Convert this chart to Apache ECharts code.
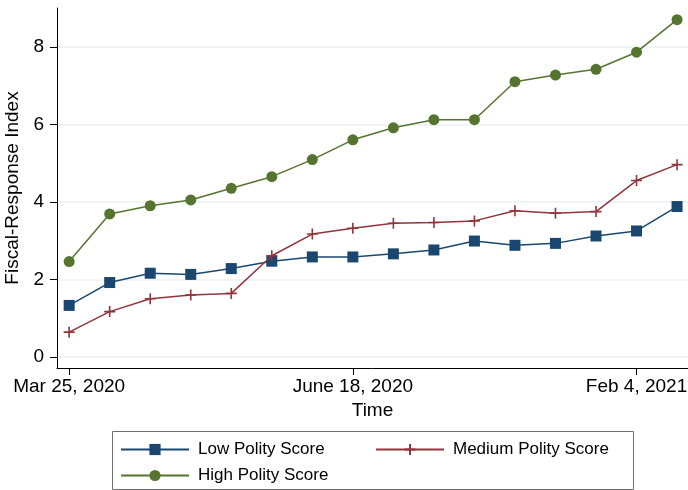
<!DOCTYPE html><html><head><meta charset="utf-8">
<script src="https://cdn.jsdelivr.net/npm/echarts@6/dist/echarts.min.js"></script>
<style>html,body{margin:0;padding:0;background:#fff}#c{width:688px;height:490px}</style>
</head><body><div id="c"></div><script>
const seriesNames = ['Low Polity Score', 'Medium Polity Score', 'High Polity Score'];
const lowValues = [1.33, 1.92, 2.16, 2.13, 2.28, 2.47, 2.58, 2.58, 2.66, 2.76, 2.99, 2.88, 2.93, 3.12, 3.25, 3.88];
const mediumValues = [0.64, 1.17, 1.50, 1.60, 1.64, 2.61, 3.17, 3.32, 3.45, 3.47, 3.51, 3.77, 3.71, 3.75, 4.55, 4.96];
const highValues = [2.46, 3.69, 3.90, 4.05, 4.35, 4.65, 5.09, 5.60, 5.91, 6.12, 6.12, 7.10, 7.27, 7.42, 7.86, 8.70];
const xTickIndex = [0, 7, 14];
const xTickLabels = ['Mar 25, 2020', 'June 18, 2020', 'Feb 4, 2021'];
const yTicks = [0, 2, 4, 6, 8];
const colors = ['#1a476f', '#90353b', '#55752f'];
const symbols = ['rect', 'path://M0,5L10,5M5,0L5,10', 'circle'];
const allValues = [lowValues, mediumValues, highValues];

const FONT = 'Liberation Sans, Arial, Helvetica, sans-serif';
const chart = echarts.init(document.getElementById('c'), null, {renderer: 'canvas'});

const series = seriesNames.map((name, k) => ({
  name: name,
  type: 'line',
  data: allValues[k].map((v, i) => [i, v]),
  symbol: symbols[k],
  symbolSize: 11,
  showAllSymbol: true,
  lineStyle: {color: colors[k], width: 1.5},
  itemStyle: k === 1 ? {color: colors[k], borderColor: colors[k], borderWidth: 1.6} : {color: colors[k], borderWidth: 0},
  emphasis: {disabled: true},
  z: 2 + k
}));

const legendCommon = {
  orient: 'horizontal',
  itemWidth: 68,
  itemHeight: 14,
  textStyle: {fontFamily: FONT, fontSize: 17, color: '#000', padding: [0, 0, 0, 4]},
  selectedMode: false
};

chart.setOption({
  animation: false,
  backgroundColor: '#fff',
  grid: {left: 57, right: 0, top: 8, bottom: 122, containLabel: false, outerBoundsMode: 'none'},
  xAxis: {
    type: 'value',
    min: -0.3,
    max: 15.27,
    name: 'Time',
    nameLocation: 'middle',
    nameGap: 32,
    nameTextStyle: {fontFamily: FONT, fontSize: 19, color: '#000'},
    axisLine: {show: true, onZero: false, lineStyle: {color: '#000', width: 1}},
    axisTick: {show: true, length: 7, customValues: xTickIndex, lineStyle: {color: '#000'}},
    axisLabel: {
      customValues: xTickIndex,
      margin: 9,
      fontFamily: FONT, fontSize: 19, color: '#000',
      formatter: v => xTickLabels[xTickIndex.indexOf(v)] || ''
    },
    splitLine: {show: false}
  },
  yAxis: {
    type: 'value',
    min: -0.284,
    max: 9.0,
    name: 'Fiscal-Response Index',
    nameLocation: 'middle',
    nameGap: 30,
    nameTextStyle: {fontFamily: FONT, fontSize: 19, color: '#000'},
    axisLine: {show: true, onZero: false, lineStyle: {color: '#000', width: 1}},
    axisTick: {show: true, length: 7, customValues: yTicks, lineStyle: {color: '#000'}},
    axisLabel: {customValues: yTicks, margin: 13, fontFamily: FONT, fontSize: 19, color: '#000'},
    splitLine: {show: true, lineStyle: {color: '#eaf2f3', width: 1.5}}
  },
  legend: [
    Object.assign({}, legendCommon, {data: [seriesNames[0]], left: 115, top: 436}),
    Object.assign({}, legendCommon, {data: [seriesNames[1]], left: 370, top: 436}),
    Object.assign({}, legendCommon, {data: [seriesNames[2]], left: 115, top: 462})
  ],
  graphic: [{
    type: 'rect',
    shape: {x: 112.5, y: 431.5, width: 521, height: 58},
    style: {fill: 'none', stroke: '#6e6e6e', lineWidth: 1},
    silent: true
  }],
  series: series
});
</script></body></html>
